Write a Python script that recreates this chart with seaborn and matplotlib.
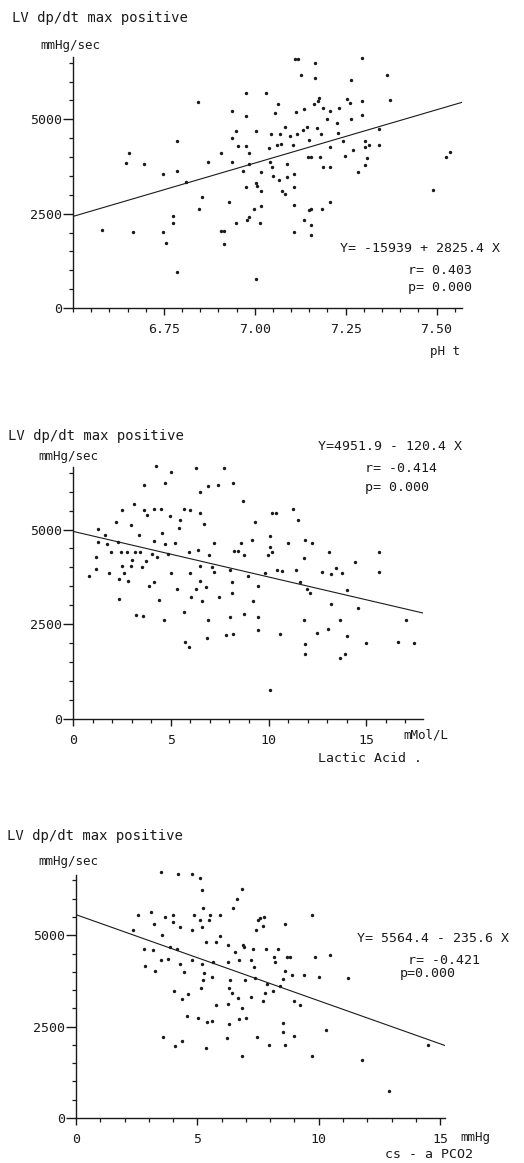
import numpy as np
import pandas as pd
import seaborn as sns
import matplotlib
matplotlib.use("Agg")
from matplotlib import pyplot as plt
from matplotlib.ticker import MultipleLocator

# panel 1: pH t vs LV dp/dt max positive
ph_x = [6.579, 6.645, 6.655, 6.665, 6.695, 6.747, 6.747, 6.755, 6.776, 6.776,
        6.787, 6.787, 6.787, 6.81, 6.845, 6.847, 6.856, 6.872, 6.906, 6.906,
        6.915, 6.915, 6.928, 6.936, 6.936, 6.938, 6.947, 6.948, 6.955, 6.968,
        6.975, 6.976, 6.976, 6.976, 6.979, 6.983, 6.984, 6.983, 6.997, 7.003,
        7.004, 7.004, 7.006, 7.015, 7.017, 7.017, 7.017, 7.031, 7.038, 7.041,
        7.045, 7.048, 7.049, 7.057, 7.060, 7.064, 7.067, 7.069, 7.071, 7.075,
        7.084, 7.084, 7.088, 7.088, 7.096, 7.104, 7.107, 7.107, 7.107, 7.107,
        7.112, 7.114, 7.116, 7.127, 7.132, 7.136, 7.136, 7.144, 7.146, 7.148,
        7.155, 7.155, 7.155, 7.155, 7.162, 7.165, 7.165, 7.170, 7.174, 7.177,
        7.180, 7.182, 7.185, 7.187, 7.187, 7.199, 7.206, 7.206, 7.207, 7.208,
        7.226, 7.228, 7.233, 7.244, 7.249, 7.253, 7.262, 7.266, 7.266, 7.269,
        7.284, 7.295, 7.295, 7.295, 7.302, 7.304, 7.304, 7.308, 7.315, 7.343,
        7.343, 7.364, 7.373, 7.489, 7.527, 7.536, 7.118, 7.150]
ph_y = [2061, 3841, 4113, 2017, 3815, 3552, 2017, 1710, 2429, 2254,
        4420, 3631, 965, 3333, 5455, 2613, 2929, 3876, 4113, 2035,
        2035, 1701, 2798, 5218, 4517, 3859, 4692, 2254, 4297, 3640,
        5692, 5095, 4297, 3219, 2324, 2412, 4113, 3815, 2622, 3315,
        4692, 763, 3236, 2254, 2701, 3113, 3613, 5700, 4227, 3859,
        4604, 3727, 3490, 5174, 4324, 5393, 3394, 4604, 4341, 3113,
        4797, 3026, 3815, 3464, 4552, 4324, 3201, 3552, 2719, 2017,
        6595, 5192, 4604, 6183, 4710, 5279, 2324, 4797, 3990, 2587,
        3990, 2631, 2193, 1929, 5393, 6490, 6095, 4780, 5481, 5569,
        3990, 4604, 2613, 5306, 3727, 4999, 3727, 2806, 5218, 4253,
        4911, 4648, 5306, 4429, 4034, 5525, 5437, 4999, 6051, 4192,
        3613, 6621, 5481, 5113, 4429, 4253, 3789, 3964, 4324, 4324,
        4736, 6183, 5499, 3131, 4008, 4139, 6595, 4450]

# panel 2: lactic acid vs LV dp/dt max positive
lac_x = [0.80, 1.16, 1.16, 1.26, 1.26, 1.66, 1.74, 1.86, 1.96, 2.22,
         2.29, 2.34, 2.34, 2.46, 2.49, 2.51, 2.63, 2.76, 2.83, 2.97,
         2.99, 3.02, 3.11, 3.17, 3.23, 3.36, 3.41, 3.53, 3.58, 3.62,
         3.65, 3.74, 3.79, 3.91, 4.04, 4.13, 4.13, 4.13, 4.23, 4.30,
         4.40, 4.49, 4.56, 4.64, 4.73, 4.73, 4.85, 4.95, 5.02, 5.02,
         5.22, 5.32, 5.44, 5.49, 5.67, 5.70, 5.75, 5.92, 5.94, 5.96,
         5.96, 6.04, 6.31, 6.31, 6.40, 6.48, 6.48, 6.52, 6.52, 6.62,
         6.72, 6.81, 6.86, 6.89, 6.89, 6.95, 7.10, 7.20, 7.20, 7.41,
         7.49, 7.71, 7.80, 8.02, 8.02, 8.14, 8.14, 8.17, 8.17, 8.23,
         8.43, 8.60, 8.69, 8.74, 8.77, 8.94, 9.16, 9.21, 9.33, 9.45,
         9.47, 9.47, 9.81, 9.98, 10.07, 10.07, 10.07, 10.19, 10.19, 10.39,
         10.41, 10.61, 10.70, 10.99, 11.26, 11.38, 11.50, 11.60, 11.81, 11.81,
         11.86, 11.86, 11.89, 11.95, 12.12, 12.20, 12.46, 12.71, 13.05, 13.09,
         13.17, 13.21, 13.43, 13.65, 13.65, 13.77, 13.91, 14.00, 14.03, 14.40,
         14.59, 14.97, 15.65, 15.65, 16.62, 17.01, 17.44]
lac_y = [3780, 4280, 3947, 5008, 4666, 4850, 4631, 3841, 4411, 5209,
         4674, 3157, 3701, 4394, 5508, 4043, 3841, 4411, 3640, 5130,
         4043, 4192, 5683, 4394, 2745, 4850, 4411, 4017, 2719, 6165,
         5508, 4166, 5376, 3508, 4367, 4692, 5551, 3622, 6665, 4280,
         3140, 5551, 4920, 2613, 6235, 4631, 4367, 5350, 6516, 3841,
         4648, 3420, 5043, 5244, 2815, 5551, 2043, 4411, 1912, 5508,
         3841, 3227, 6630, 3420, 4455, 5990, 5446, 4034, 3648, 3122,
         5157, 3490, 2131, 6139, 2613, 4324, 4017, 3868, 4657, 6165,
         3227, 6630, 2219, 2701, 3929, 3622, 3315, 6227, 2236, 4429,
         4437, 4648, 5744, 2762, 4324, 3771, 4718, 3113, 5201, 3517,
         2701, 2350, 3841, 4315, 4832, 4543, 754, 4411, 5437, 5437,
         3929, 2245, 3911, 4648, 5551, 3929, 5244, 3622, 4236, 2613,
         4718, 1982, 1710, 3420, 3315, 4648, 2263, 3868, 2368, 4411,
         3815, 3026, 3973, 2613, 1605, 3841, 1710, 3403, 2193, 4148,
         2920, 2000, 4411, 3868, 2043, 2613, 2000]

# panel 3: cs - a PCO2 vs LV dp/dt max positive
pco_x = [2.36, 2.54, 2.80, 2.84, 3.08, 3.16, 3.23, 3.26, 3.49, 3.50,
         3.56, 3.57, 3.67, 3.80, 3.87, 3.98, 4.01, 4.04, 4.07, 4.15,
         4.22, 4.29, 4.29, 4.35, 4.37, 4.46, 4.56, 4.63, 4.77, 4.77,
         4.79, 4.86, 5.04, 5.11, 5.11, 5.18, 5.18, 5.22, 5.18, 5.25,
         5.15, 5.27, 5.36, 5.36, 5.41, 5.48, 5.52, 5.59, 5.62, 5.66,
         5.75, 5.77, 5.93, 5.93, 6.25, 6.25, 6.26, 6.29, 6.29, 6.24,
         6.35, 6.44, 6.45, 6.55, 6.62, 6.69, 6.70, 6.73, 6.83, 6.85,
         6.85, 6.89, 6.94, 6.97, 6.99, 7.20, 7.20, 7.31, 7.35, 7.38,
         7.42, 7.47, 7.51, 7.58, 7.69, 7.72, 7.75, 7.79, 7.81, 7.86,
         7.93, 8.11, 8.16, 8.20, 8.34, 8.41, 8.52, 8.52, 8.54, 8.61,
         8.61, 8.61, 8.68, 8.82, 8.89, 8.96, 8.98, 9.23, 9.40, 9.71,
         9.71, 9.85, 10.03, 10.30, 10.47, 11.20, 11.80, 12.90, 14.52]
pco_y = [5136, 5545, 4636, 4154, 5636, 4590, 5318, 4018, 4318, 6727,
         5000, 2209, 5500, 4363, 4681, 5545, 5363, 3481, 1982, 4636,
         6681, 5227, 4227, 3245, 2118, 4000, 2800, 3400, 6681, 5136,
         4318, 5545, 2727, 6563, 5409, 5227, 6227, 5745, 4227, 3772,
         3545, 3981, 4818, 1909, 2636, 5409, 5545, 2663, 3845, 4272,
         3090, 4818, 5545, 4981, 4272, 3109, 4745, 3545, 2572, 2200,
         3790, 3409, 5745, 4545, 6000, 3272, 4318, 2700, 3000, 6254,
         1700, 4727, 4681, 3772, 2727, 3300, 4318, 4636, 4136, 3836,
         5136, 2209, 5409, 5472, 3209, 5254, 5500, 3409, 4636, 3654,
         2000, 3481, 4409, 4272, 4636, 3609, 2590, 2345, 3800, 5318,
         2000, 4018, 4409, 4409, 3909, 2254, 3209, 3090, 3927, 5545,
         1700, 4409, 3863, 2409, 4454, 3818, 1590, 745, 2000]

# fitted lines as printed on the chart: Y = intercept + slope * X
intercepts = [-15939, 4951.9, 5564.4]
slopes = [2825.4, -120.4, -235.6]
equations = ["Y= -15939 + 2825.4 X", "Y=4951.9 - 120.4 X", "Y= 5564.4 - 235.6 X"]
r_labels = ["r= 0.403", "r= -0.414", "r= -0.421"]
p_labels = ["p= 0.000", "p= 0.000", "p=0.000"]

sns.set_style("ticks")
plt.rcParams["font.family"] = ["DejaVu Sans Mono"]
plt.rcParams["axes.linewidth"] = 1.0

W, H = 524, 1163
fig = plt.figure(figsize=(W / 100, H / 100), dpi=100)
fig.patch.set_facecolor("white")


def px(x, y):
    return x / W, 1 - y / H


def rect(left, right, top, bottom):
    return [left / W, 1 - bottom / H, (right - left) / W, (bottom - top) / H]


panels = [
    dict(x=ph_x, y=ph_y, rect=rect(73, 462, 57, 308), xlim=(6.50, 7.57),
         major=0.25, minor=0.05, fmt="{:.2f}", first=6.75),
    dict(x=lac_x, y=lac_y, rect=rect(73, 423, 467, 719), xlim=(0, 17.9),
         major=5, minor=1, fmt="{:.0f}", first=0),
    dict(x=pco_x, y=pco_y, rect=rect(76, 445, 875, 1118), xlim=(0, 15.2),
         major=5, minor=1, fmt="{:.0f}", first=0),
]

for i, p in enumerate(panels):
    ax = fig.add_axes(p["rect"])
    df = pd.DataFrame({"x": p["x"], "y": p["y"]})
    sns.scatterplot(data=df, x="x", y="y", ax=ax, s=6, color="#1a1a1a",
                    linewidth=0, legend=False, clip_on=False)
    lx = np.array(p["xlim"])
    line = pd.DataFrame({"x": lx, "y": intercepts[i] + slopes[i] * lx})
    sns.lineplot(data=line, x="x", y="y", ax=ax, color="#1a1a1a", lw=0.8)

    ax.set_xlim(*p["xlim"])
    ax.set_ylim(0, 6650)
    ax.set_xlabel("")
    ax.set_ylabel("")
    sns.despine(ax=ax)

    ticks = np.arange(p["first"], p["xlim"][1] + 1e-9, p["major"])
    ax.set_xticks(ticks)
    ax.set_xticklabels([p["fmt"].format(t) for t in ticks])
    ax.xaxis.set_minor_locator(MultipleLocator(p["minor"]))
    ax.set_yticks([0, 2500, 5000])
    ax.set_yticklabels(["0", "2500", "5000"])
    ax.yaxis.set_minor_locator(MultipleLocator(500))
    ax.tick_params(axis="both", which="major", labelsize=9.5, color="#1a1a1a",
                   labelcolor="#1a1a1a", width=1.0)
    ax.tick_params(axis="y", which="major", length=7, pad=1)
    ax.tick_params(axis="x", which="major", length=5, pad=6)
    ax.tick_params(axis="both", which="minor", length=3, width=0.9,
                   color="#1a1a1a")
    for s in ax.spines.values():
        s.set_color("#1a1a1a")

txt = dict(color="#1a1a1a", va="center", ha="left")

# panel 1 texts
fig.text(*px(12, 18), "LV dp/dt max positive", fontsize=10, **txt)
fig.text(*px(40, 45), "mmHg/sec", fontsize=9, **txt)
fig.text(*px(340, 248), equations[0], fontsize=9.5, **txt)
fig.text(*px(408, 270), r_labels[0], fontsize=9.5, **txt)
fig.text(*px(408, 288), p_labels[0], fontsize=9.5, **txt)
fig.text(*px(430, 352), "pH t", fontsize=9, **txt)

# panel 2 texts
fig.text(*px(8, 436), "LV dp/dt max positive", fontsize=10, **txt)
fig.text(*px(38, 456), "mmHg/sec", fontsize=9, **txt)
fig.text(*px(318, 447), equations[1], fontsize=9.5, **txt)
fig.text(*px(365, 469), r_labels[1], fontsize=9.5, **txt)
fig.text(*px(365, 488), p_labels[1], fontsize=9.5, **txt)
fig.text(*px(403, 735), "mMol/L", fontsize=9, **txt)
fig.text(*px(318, 759), "Lactic Acid .", fontsize=9.5, **txt)

# panel 3 texts
fig.text(*px(7, 836), "LV dp/dt max positive", fontsize=10, **txt)
fig.text(*px(38, 861), "mmHg/sec", fontsize=9, **txt)
fig.text(*px(357, 939), equations[2], fontsize=9.5, **txt)
fig.text(*px(408, 960), r_labels[2], fontsize=9.5, **txt)
fig.text(*px(400, 973), p_labels[2], fontsize=9.5, **txt)
fig.text(*px(460, 1137), "mmHg", fontsize=9, **txt)
fig.text(*px(385, 1154), "cs - a PCO2", fontsize=9.5, **txt)

fig.savefig("out.png", dpi=100, facecolor="white")
